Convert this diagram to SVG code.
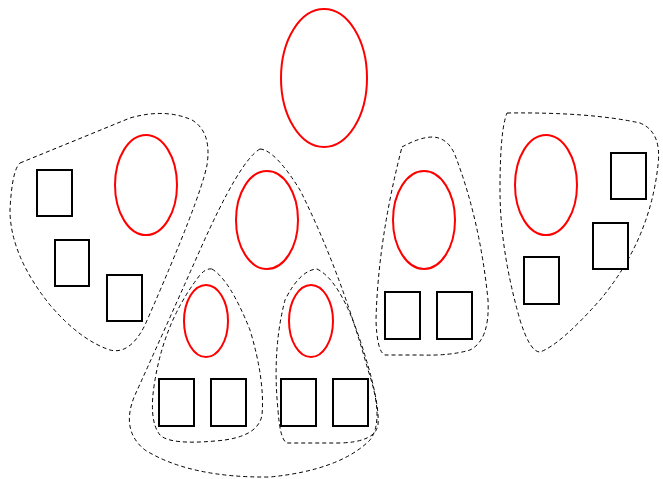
<svg xmlns="http://www.w3.org/2000/svg" width="663" height="479" viewBox="0 0 663 479">
<style>
.hull{fill:none;stroke:#000;stroke-width:1;stroke-dasharray:4,3}
.ell{fill:#fff;stroke:#f00;stroke-width:2}
.box{fill:#fff;stroke:#000;stroke-width:2}
</style>
<rect width="663" height="479" fill="#fff"/>
<g id="hulls">
<path id="hull-left" class="hull" d="M 20,163 L 130,118 Q 165,108 192,120 Q 212,132 207,165 Q 200,200 145,325 Q 130,355 110,350 Q 80,340 50,305 Q 10,255 10,210 Q 12,170 20,163 Z"/>
<path id="hull-mid" class="hull" d="M 260,149 Q 275,150 300,190 Q 340,270 368,370 Q 385,420 370,440 Q 340,470 270,477 Q 190,478 145,450 Q 120,430 135,395 Q 160,340 200,250 Q 240,160 260,149 Z"/>
<path id="hull-midleft" class="hull" d="M 212,269 Q 230,280 250,330 Q 265,380 262,415 Q 258,438 215,441 Q 170,445 160,435 Q 148,420 155,380 Q 165,320 200,275 Q 206,268 212,269 Z"/>
<path id="hull-midright" class="hull" d="M 317,269 Q 340,280 360,340 Q 380,400 378,425 Q 375,442 340,443 L 287,443 Q 280,440 278,410 Q 272,350 285,300 Q 300,270 317,269 Z"/>
<path id="hull-rightmid" class="hull" d="M 402,147 Q 420,137 433,137 Q 448,138 455,155 Q 480,220 488,300 Q 490,340 470,350 Q 450,356 420,355 L 385,355 Q 377,352 376,320 Q 378,240 402,147 Z"/>
<path id="hull-right" class="hull" d="M 507,113 Q 590,112 640,123 Q 662,132 658,165 Q 650,240 600,300 Q 560,345 540,352 Q 530,352 520,320 Q 500,250 500,190 Q 500,130 507,113 Z"/>
</g>
<g id="top"><ellipse class="ell" cx="324" cy="78" rx="43" ry="69"/></g>
<g id="left-cluster">
<ellipse class="ell" cx="146" cy="185" rx="31" ry="50"/>
<rect class="box" x="37" y="170" width="35" height="46"/>
<rect class="box" x="55" y="240" width="34" height="46"/>
<rect class="box" x="107" y="275" width="35" height="46"/>
</g>
<g id="mid-cluster">
<ellipse class="ell" cx="267" cy="220" rx="31" ry="49"/>
</g>
<g id="midleft-cluster">
<ellipse class="ell" cx="206" cy="321" rx="22" ry="36"/>
<rect class="box" x="159" y="379" width="35" height="47"/>
<rect class="box" x="211" y="379" width="35" height="47"/>
</g>
<g id="midright-cluster">
<ellipse class="ell" cx="311" cy="321" rx="22" ry="36"/>
<rect class="box" x="281" y="379" width="35" height="47"/>
<rect class="box" x="333" y="379" width="35" height="47"/>
</g>
<g id="rightmid-cluster">
<ellipse class="ell" cx="424" cy="220" rx="31" ry="49"/>
<rect class="box" x="385" y="292" width="35" height="47"/>
<rect class="box" x="437" y="292" width="35" height="47"/>
</g>
<g id="right-cluster">
<ellipse class="ell" cx="546" cy="185" rx="31" ry="50"/>
<rect class="box" x="611" y="153" width="35" height="46"/>
<rect class="box" x="593" y="223" width="35" height="46"/>
<rect class="box" x="524" y="257" width="35" height="47"/>
</g>
</svg>
